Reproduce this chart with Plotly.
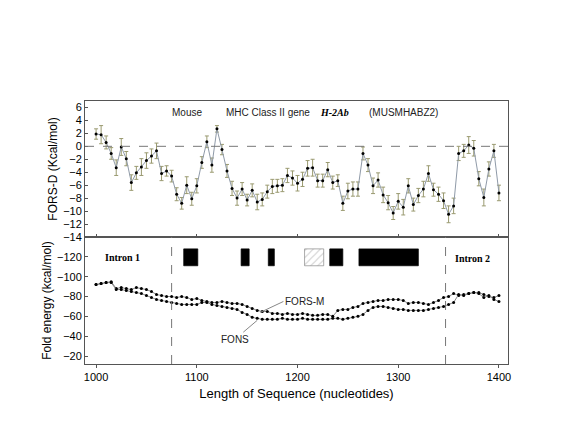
import plotly.graph_objects as go
from plotly.subplots import make_subplots

# FORS-D, one value every 5 nt from 1000
fors_d = [1.9, 1.8, 0.6, -1.1, -3.3, -0.1, -1.9, -5.6, -4.1, -3.2, -2.2, -1.5, -0.7, -4.2, -3.8, -4.6,
          -7.4, -8.8, -6.0, -8.1, -6.1, -2.5, 0.7, -2.9, 2.7, -0.5, -3.8, -6.5, -8.0, -6.6, -8.3, -6.8,
          -8.6, -8.2, -7.0, -6.2, -6.1, -6.0, -4.5, -4.9, -5.7, -5.1, -3.4, -3.3, -5.3, -5.3, -3.6, -5.6,
          -5.3, -8.8, -6.9, -6.6, -6.6, -1.1, -2.9, -6.1, -5.2, -7.5, -8.7, -10.3, -8.5, -9.4, -6.1, -9.0,
          -7.6, -6.6, -4.2, -6.7, -7.4, -8.4, -10.5, -9.2, -1.1, -0.7, 0.2, -0.3, -5.0, -7.9, -3.5, -0.7, -7.2]
fors_d_err = [0.8, 1.4, 1.0, 0.9, 1.2, 1.3, 1.1, 1.2, 1.0, 1.3, 1.2, 1.1, 1.2, 1.1, 0.8, 0.9,
              1.0, 0.9, 1.3, 1.0, 1.1, 0.9, 0.9, 1.1, 0.5, 0.8, 1.0, 1.1, 1.1, 1.0, 0.9, 1.0,
              1.2, 1.0, 1.0, 1.1, 1.0, 1.0, 1.1, 1.1, 1.2, 1.1, 1.2, 1.3, 1.0, 1.0, 1.1, 1.0,
              0.9, 1.1, 1.2, 1.1, 1.1, 1.0, 1.0, 1.2, 1.1, 1.2, 1.1, 1.0, 1.2, 1.2, 1.1, 1.0,
              1.1, 1.2, 1.2, 1.0, 1.1, 1.2, 1.3, 1.2, 1.1, 1.0, 1.3, 1.2, 1.1, 1.3, 1.1, 1.0, 1.2]
fors_m = [-92, -93, -94, -95, -88, -89, -88, -87, -89, -88, -87, -85, -82, -81, -80, -80, -79, -80, -79, -77,
          -78, -76, -75, -74, -74, -75, -74, -73, -73, -72, -70, -68, -66, -65, -65, -63, -63, -62, -63, -62,
          -62, -63, -62, -61, -61, -62, -62, -60, -66, -67, -67, -69, -70, -73, -74, -75, -76, -76, -77, -77,
          -77, -76, -73, -74, -74, -73, -72, -74, -76, -79, -80, -83, -81, -82, -83, -84, -84, -82, -80, -79, -81]
fons = [-92, -93, -94, -94, -87, -87, -86, -85, -84, -83, -81, -79, -77, -76, -75, -74, -73, -72, -72, -72,
        -72, -74, -74, -72, -71, -70, -69, -68, -67, -64, -62, -59, -58, -57, -57, -57, -57, -58, -57, -57,
        -57, -58, -57, -57, -57, -57, -57, -58, -58, -57, -58, -59, -60, -62, -66, -69, -70, -70, -69, -68,
        -67, -67, -66, -66, -66, -66, -67, -68, -69, -70, -72, -74, -82, -81, -83, -84, -83, -79, -81, -77, -75]
pos = [1000 + 5 * i for i in range(81)]

# exons (start, end, hatched)
exons = [(1087, 1101, False), (1144, 1152, False), (1171, 1177, False),
         (1207, 1226, True), (1232, 1245, False), (1261, 1320, False)]
introns = [1075, 1347]

fig = make_subplots(rows=2, cols=1, shared_xaxes=True, vertical_spacing=0, row_heights=[0.517, 0.483])

fig.add_trace(go.Scatter(x=pos, y=fors_d, mode="lines+markers",
                         line=dict(color="#8f9aa8", width=1), marker=dict(color="black", size=3),
                         error_y=dict(array=fors_d_err, color="#9a9a70", thickness=1, width=2)), row=1, col=1)

for s, e, h in exons:
    fig.add_trace(go.Bar(x=[(s + e) / 2], y=[17], base=[-128], width=[e - s],
                         marker=dict(color="white" if h else "black", line=dict(color="#888" if h else "black", width=0.7),
                                     pattern=dict(shape="/", fgcolor="#999", size=5) if h else None)),
                  row=2, col=1)

fig.add_trace(go.Scatter(x=pos, y=fors_m, mode="lines+markers", line=dict(color="#888", width=1),
                         marker=dict(color="black", size=3)), row=2, col=1)
fig.add_trace(go.Scatter(x=pos, y=fons, mode="lines+markers", line=dict(color="#888", width=1),
                         marker=dict(color="black", size=3)), row=2, col=1)

fig.add_hline(y=0, line=dict(color="#777", width=1, dash="dash"), row=1, col=1)
for v in introns:
    fig.add_vline(x=v, line=dict(color="#777", width=1, dash="dash"), row=2, col=1)

font = dict(family="Arial, Liberation Sans", size=11, color="black")
tfont = dict(family="Arial, Liberation Sans", size=12, color="black")
ax = dict(showgrid=False, zeroline=False, showline=True, linecolor="#555", mirror=True, ticks="inside",
          ticklen=3, tickcolor="#555", tickfont=font, automargin=False)
fig.update_xaxes(**ax, range=[989, 1409], dtick=100)
fig.update_xaxes(ticks="outside", title=dict(text="Length of Sequence (nucleotides)", font=dict(family="Arial, Liberation Sans", size=13, color="black"), standoff=6), row=2, col=1)
fig.update_yaxes(**ax)
fig.update_yaxes(range=[-14, 7], dtick=2, title=dict(text="FORS-D (Kcal/mol)", font=tfont, standoff=2), row=1, col=1)
fig.update_yaxes(range=[-12, -140], tickvals=[-120, -100, -80, -60, -40, -20],
                 title=dict(text="Fold energy (kcal/mol)", font=tfont, standoff=2), row=2, col=1)

tf = dict(family="Arial, Liberation Sans", size=10, color="#222")
bf = dict(family="Times New Roman, Liberation Serif", size=10, color="black")
fig.add_annotation(x=1090, y=5.2, text="Mouse", showarrow=False, font=tf, row=1, col=1)
fig.add_annotation(x=1171, y=5.2, text="MHC Class II gene", showarrow=False, font=tf, row=1, col=1)
fig.add_annotation(x=1237, y=5.2, text="<b><i>H-2Ab</i></b>", showarrow=False, font=bf, row=1, col=1)
fig.add_annotation(x=1305, y=5.2, text="(MUSMHABZ2)", showarrow=False, font=tf, row=1, col=1)
fig.add_annotation(x=1026, y=-119, text="<b>Intron 1</b>", showarrow=False, font=bf, row=2, col=1)
fig.add_annotation(x=1374, y=-118, text="<b>Intron 2</b>", showarrow=False, font=bf, row=2, col=1)
fig.add_annotation(x=1163, y=-64, ax=1186, ay=-75, axref="x2", ayref="y2", text="FORS-M", font=tf,
                   xanchor="left", arrowhead=0, arrowcolor="#888", arrowwidth=1, showarrow=True, row=2, col=1)
fig.add_annotation(x=1160, y=-56, ax=1138, ay=-37, axref="x2", ayref="y2", text="FONS", font=tf,
                   arrowhead=0, arrowcolor="#888", arrowwidth=1, showarrow=True, row=2, col=1)

fig.update_layout(width=568, height=434, margin=dict(l=77, r=68, t=93, b=78), showlegend=False,
                  plot_bgcolor="white", paper_bgcolor="white", barmode="overlay")
fig.write_html("out.html")
